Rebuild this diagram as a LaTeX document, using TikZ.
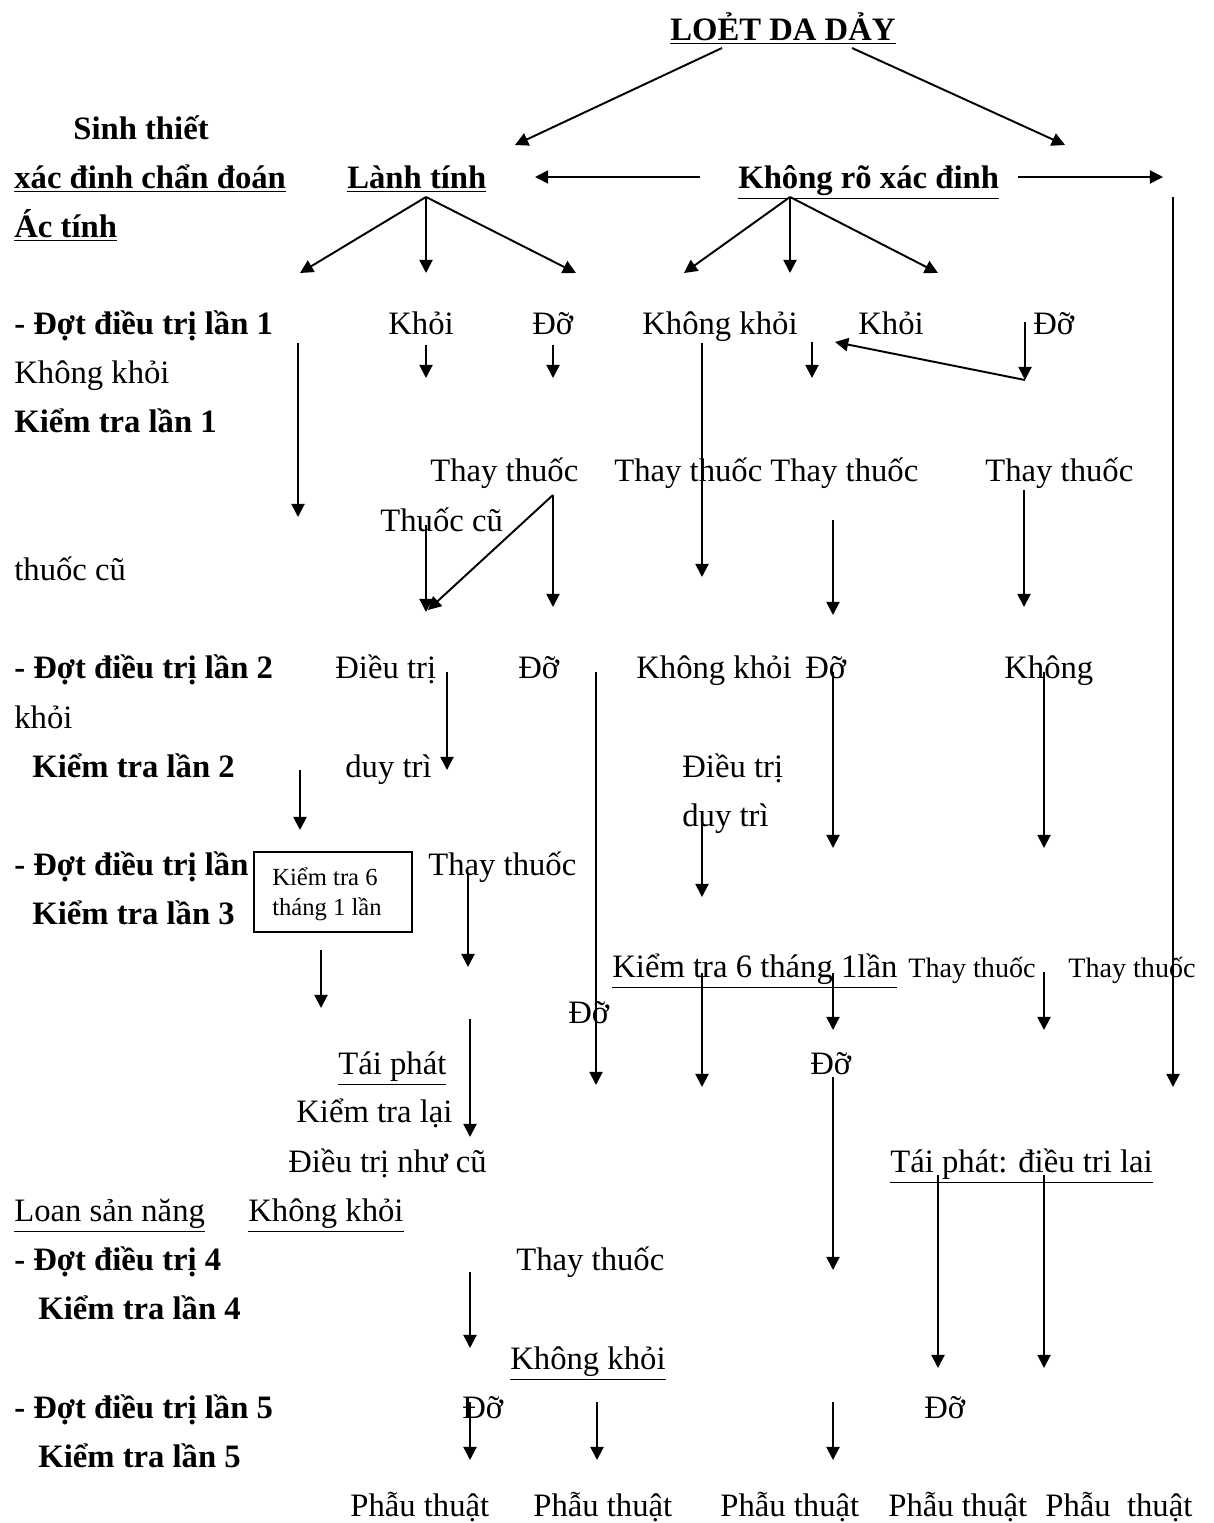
\documentclass[tikz,border=0pt]{standalone}
\usepackage{fontspec}
\setmainfont{Liberation Serif}
\usetikzlibrary{arrows.meta}

\tikzset{
  txt/.style={anchor=base west,inner sep=0pt,yshift=-0.07cm,font=\fontsize{18.6}{22}\selectfont},
  bold/.style={txt,font=\fontsize{18.6}{22}\selectfont\bfseries},
  small/.style={txt,font=\fontsize{16}{19}\selectfont},
  arr/.style={-{Triangle[length=7.5pt,width=7.5pt]},line width=1.1pt},
}

\begin{document}
\begin{tikzpicture}[x=0.02cm,y=-0.02cm]
\useasboundingbox (0,0) rectangle (1213,1523);

% left column
\node[bold] (sinh) at (73,136) {Sinh thiết};
\node[bold] (xacdinh) at (14,185) {\underline{xác đinh chẩn đoán}};
\node[bold] (actinh) at (14,234) {\underline{Ác tính}};
\node[bold] (dot1) at (14,331) {- Đợt điều trị lần 1};
\node[txt] (khongkhoi1) at (14,380) {Không khỏi};
\node[bold] (kt1) at (14,429) {Kiểm tra lần 1};
\node[txt] (thuoccu1) at (14,577) {thuốc cũ};
\node[bold] (dot2) at (14,675) {- Đợt điều trị lần 2};
\node[txt] (khoi2) at (14,725) {khỏi};
\node[bold] (kt2) at (32,774) {Kiểm tra lần 2};
\node[bold] (dot3) at (14,872) {- Đợt điều trị lần};
\node[bold] (kt3) at (32,921) {Kiểm tra lần 3};
\node[txt] (loan) at (14,1218) {\underline{Loan sản năng}};
\node[bold] (dot4) at (14,1267) {- Đợt điều trị 4};
\node[bold] (kt4) at (38,1316) {Kiểm tra lần 4};
\node[bold] (dot5) at (14,1415) {- Đợt điều trị lần 5};
\node[bold] (kt5) at (38,1464) {Kiểm tra lần 5};

% top
\node[bold] (title) at (670,37) {\underline{LOẺT DA DẢY}};
\node[bold] (lanh) at (347,185) {\underline{Lành tính}};
\node[bold] (khongro) at (738,185) {\underline{Không rõ xác đinh}};

% rows
\node[txt] (khoiA) at (388,331) {Khỏi};
\node[txt] (doA) at (532,331) {Đỡ};
\node[txt] (khongkhoiB) at (642,331) {Không khỏi};
\node[txt] (khoiB) at (858,331) {Khỏi};
\node[txt] (doB) at (1033,331) {Đỡ};
\node[txt] (thayA) at (430,478) {Thay thuốc};
\node[txt] (thayB) at (614,478) {Thay thuốc};
\node[txt] (thayC) at (770,478) {Thay thuốc};
\node[txt] (thayD) at (985,478) {Thay thuốc};
\node[txt] (thuoccuA) at (380,528) {Thuốc cũ};
\node[txt] (dieutriA) at (335,675) {Điều trị};
\node[txt] (doC) at (518,675) {Đỡ};
\node[txt] (khongkhoiC) at (636,675) {Không khỏi};
\node[txt] (doD) at (805,675) {Đỡ};
\node[txt] (khongC) at (1004,675) {Không};
\node[txt] (duytriA) at (345,774) {duy trì};
\node[txt] (dieutriB) at (682,774) {Điều trị};
\node[txt] (duytriB) at (682,823) {duy trì};
\node[txt] (thayE) at (428,872) {Thay thuốc};
\node[draw,line width=1pt,minimum width=158*0.02cm,minimum height=80*0.02cm,
      inner sep=0pt] (box6) at (333,892) {};
\node[txt,font=\fontsize{14}{17}\selectfont,align=left,anchor=north west]
      (box6txt) at (272,864) {Kiểm tra 6\\tháng 1 lần};
\node[txt] (kt6) at (612,974) {\underline{Kiểm tra 6 tháng 1lần}};
\node[small] (thayF) at (908,974) {Thay thuốc};
\node[small] (thayG) at (1068,974) {Thay thuốc};
\node[txt] (doE) at (568,1020) {Đỡ};
\node[txt] (taiphat) at (338,1071) {\underline{Tái phát}};
\node[txt] (doF) at (810,1071) {Đỡ};
\node[txt] (ktlai) at (296,1119) {Kiểm tra lại};
\node[txt] (dtcu) at (288,1169) {Điều trị như cũ};
\node[txt] (taiphat2) at (890,1169) {\underline{Tái phát: điều tri lai}};
\node[txt] (khongkhoiD) at (248,1218) {\underline{Không khỏi}};
\node[txt] (thayH) at (516,1267) {Thay thuốc};
\node[txt] (khongkhoiE) at (510,1366) {\underline{Không khỏi}};
\node[txt] (doG) at (462,1415) {Đỡ};
\node[txt] (doH) at (924,1415) {Đỡ};
\node[txt] (pt1) at (350,1513) {Phẫu thuật};
\node[txt] (pt2) at (533,1513) {Phẫu thuật};
\node[txt] (pt3) at (720,1513) {Phẫu thuật};
\node[txt] (pt4) at (888,1513) {Phẫu thuật};
\node[txt] (pt5) at (1045,1513) {Phẫu\enspace thuật};

% arrow ends
\coordinate (tl) at (722,48); \coordinate (tlE) at (515,145);
\coordinate (tr) at (852,48); \coordinate (trE) at (1065,145);
\coordinate (krL) at (700,177); \coordinate (krLE) at (535,177);
\coordinate (krR) at (1018,177); \coordinate (krRE) at (1163,177);
\coordinate (rt) at (1173,197); \coordinate (rtE) at (1173,1087);
\coordinate (lanhO) at (426,197); \coordinate (krO) at (790,197);
\coordinate (f1) at (300,273); \coordinate (f2) at (426,273); \coordinate (f3) at (576,273);
\coordinate (f4) at (684,273); \coordinate (f5) at (790,273); \coordinate (f6) at (938,273);
\coordinate (c1) at (298,343); \coordinate (c1E) at (298,517);
\coordinate (kA) at (426,345); \coordinate (kAE) at (426,378);
\coordinate (dA) at (553,345); \coordinate (dAE) at (553,378);
\coordinate (kkB) at (702,343); \coordinate (kkBE) at (702,577);
\coordinate (kB) at (812,342); \coordinate (kBE) at (812,378);
\coordinate (dB) at (1025,322); \coordinate (dBE) at (1025,380);
\coordinate (dBL) at (835,342);
\coordinate (tA) at (553,495); \coordinate (tAL) at (428,610); \coordinate (tAE) at (553,607);
\coordinate (tc) at (426,525); \coordinate (tcE) at (426,612);
\coordinate (tC) at (833,520); \coordinate (tCE) at (833,615);
\coordinate (tD) at (1024,490); \coordinate (tDE) at (1024,607);
\coordinate (dtA) at (447,672); \coordinate (dtAE) at (447,770);
\coordinate (dC) at (596,672); \coordinate (dCE) at (596,1085);
\coordinate (c2) at (300,770); \coordinate (c2E) at (300,830);
\coordinate (dD) at (833,672); \coordinate (dDE) at (833,848);
\coordinate (kC) at (1044,672); \coordinate (kCE) at (1044,848);
\coordinate (dtB) at (702,820); \coordinate (dtBE) at (702,897);
\coordinate (tE) at (468,873); \coordinate (tEE) at (468,967);
\coordinate (bx) at (321,950); \coordinate (bxE) at (321,1008);
\coordinate (tp) at (470,1019); \coordinate (tpE) at (470,1137);
\coordinate (k6a) at (702,973); \coordinate (k6aE) at (702,1087);
\coordinate (k6b) at (833,973); \coordinate (k6bE) at (833,1030);
\coordinate (tF) at (1044,972); \coordinate (tFE) at (1044,1030);
\coordinate (dF) at (833,1077); \coordinate (dFE) at (833,1270);
\coordinate (tp2a) at (938,1175); \coordinate (tp2aE) at (938,1368);
\coordinate (tp2b) at (1044,1175); \coordinate (tp2bE) at (1044,1368);
\coordinate (kd) at (470,1272); \coordinate (kdE) at (470,1348);
\coordinate (p1) at (470,1402); \coordinate (p1E) at (470,1460);
\coordinate (p2) at (597,1402); \coordinate (p2E) at (597,1460);
\coordinate (p3) at (833,1402); \coordinate (p3E) at (833,1460);

% arrows
\draw[arr] (tl) -- (tlE);
\draw[arr] (tr) -- (trE);
\draw[arr] (krL) -- (krLE);
\draw[arr] (krR) -- (krRE);
\draw[arr] (rt) -- (rtE);
\draw[arr] (lanhO) -- (f1);
\draw[arr] (lanhO) -- (f2);
\draw[arr] (lanhO) -- (f3);
\draw[arr] (krO) -- (f4);
\draw[arr] (krO) -- (f5);
\draw[arr] (krO) -- (f6);
\draw[arr] (c1) -- (c1E);
\draw[arr] (kA) -- (kAE);
\draw[arr] (dA) -- (dAE);
\draw[arr] (kkB) -- (kkBE);
\draw[arr] (kB) -- (kBE);
\draw[arr] (dB) -- (dBE);
\draw[arr] (dBE) -- (dBL);
\draw[arr] (tA) -- (tAL);
\draw[arr] (tA) -- (tAE);
\draw[arr] (tc) -- (tcE);
\draw[arr] (tC) -- (tCE);
\draw[arr] (tD) -- (tDE);
\draw[arr] (dtA) -- (dtAE);
\draw[arr] (dC) -- (dCE);
\draw[arr] (c2) -- (c2E);
\draw[arr] (dD) -- (dDE);
\draw[arr] (kC) -- (kCE);
\draw[arr] (dtB) -- (dtBE);
\draw[arr] (tE) -- (tEE);
\draw[arr] (bx) -- (bxE);
\draw[arr] (tp) -- (tpE);
\draw[arr] (k6a) -- (k6aE);
\draw[arr] (k6b) -- (k6bE);
\draw[arr] (tF) -- (tFE);
\draw[arr] (dF) -- (dFE);
\draw[arr] (tp2a) -- (tp2aE);
\draw[arr] (tp2b) -- (tp2bE);
\draw[arr] (kd) -- (kdE);
\draw[arr] (p1) -- (p1E);
\draw[arr] (p2) -- (p2E);
\draw[arr] (p3) -- (p3E);

\end{tikzpicture}
\end{document}
